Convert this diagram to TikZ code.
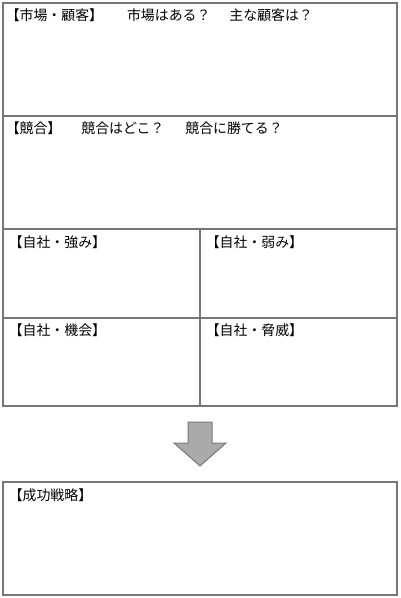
\documentclass[tikz,border=0pt]{standalone}
\usepackage{fontspec}
\setmainfont{Noto Sans CJK JP}
\definecolor{frame}{HTML}{777777}
\definecolor{arrowfill}{HTML}{AAAAAA}
\begin{document}
\begin{tikzpicture}[x=1pt,y=-1pt,
  boxline/.style={draw=frame,line width=1.3pt},
  lbl/.style={anchor=west,inner sep=0pt,font=\fontsize{13.9}{15}\selectfont,text=black}]
\useasboundingbox (0,0) rectangle (400,598);
% frames
\draw[boxline] (3,3) rectangle (397,406);
\draw[boxline] (3,116) -- (397,116);
\draw[boxline] (3,229) -- (397,229);
\draw[boxline] (3,318) -- (397,318);
\draw[boxline] (200,229) -- (200,406);
\draw[boxline] (3,482) rectangle (397,595);
% arrow
\draw[draw=frame,fill=arrowfill,line width=1pt] (188,422) -- (212,422) -- (212,443) -- (226,443) -- (200,466) -- (174,443) -- (188,443) -- cycle;
% labels
\node[lbl] (t1) at (5.6,15) {【市場・顧客】\hspace{24pt}市場はある？\hspace{19pt}主な顧客は？};
\node[lbl] (t2) at (5.6,128) {【競合】\hspace{20pt}競合はどこ？\hspace{21pt}競合に勝てる？};
\node[lbl] (t3) at (8.6,242) {【自社・強み】};
\node[lbl] (t4) at (205.6,242) {【自社・弱み】};
\node[lbl] (t5) at (8.6,330) {【自社・機会】};
\node[lbl] (t6) at (205.6,330) {【自社・脅威】};
\node[lbl] (t7) at (8.6,495) {【成功戦略】};
\end{tikzpicture}
\end{document}
